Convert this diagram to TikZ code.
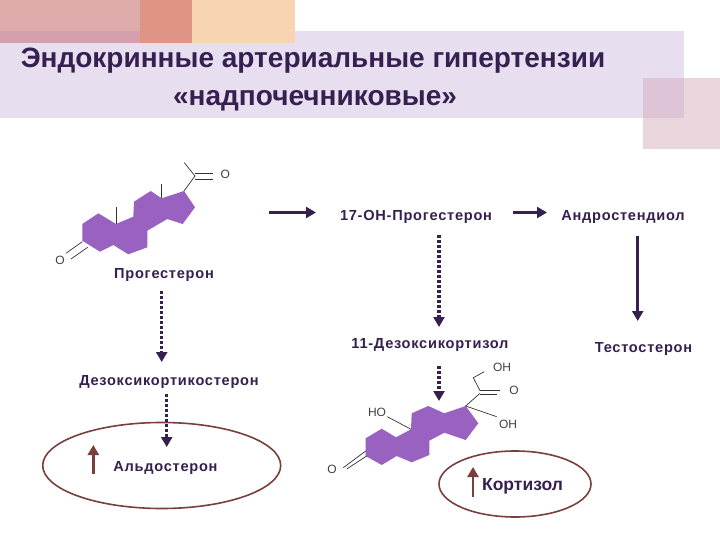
\documentclass[tikz,border=0pt]{standalone}
\usepackage{fontspec}
\setmainfont{Liberation Sans}
\newfontfamily\labelfont[LetterSpace=5]{Liberation Sans}
\usetikzlibrary{arrows.meta,shapes.geometric}
\definecolor{inkdark}{HTML}{35204F}
\definecolor{ringfill}{HTML}{9A62C0}
\definecolor{loopbrown}{HTML}{7A3F3C}
\definecolor{bandfill}{HTML}{E7DEEF}
\definecolor{blockrose}{HTML}{E0ABAB}
\definecolor{blockmix}{HTML}{D69FAD}
\definecolor{blockcoral}{HTML}{DE9585}
\definecolor{blockpeach}{HTML}{F8D5B2}
\definecolor{blockmauve}{HTML}{E9D6DD}
\definecolor{blockover}{HTML}{DDC4D7}
\tikzset{
  compound/.style = {font = \labelfont\fontsize{14.6}{16}\bfseries, text = inkdark, inner sep = 0pt},
  atom/.style = {font = \fontsize{12}{14}\selectfont, text = black!75, inner sep = 0pt},
  title/.style = {font = \fontsize{28}{30}\bfseries, text = inkdark, inner sep = 0pt},
  bond/.style = {draw = black!80, line width = 0.7pt},
  ring/.style = {fill = ringfill},
  solidstep/.style = {draw = inkdark, line width = 3.4pt, -{Triangle[length = 10pt, width = 11pt]}},
  dotstep/.style = {draw = inkdark, line width = 3.4pt, dash pattern = on 3pt off 2pt, -{Triangle[length = 10pt, width = 11pt]}},
  risearrow/.style = {draw = loopbrown, line width = 2.6pt, -{Triangle[length = 10pt, width = 11pt]}},
  hormoneloop/.style = {draw = loopbrown, line width = 1.6pt}
}
\begin{document}
\begin{tikzpicture}[x = 1pt, y = -1pt]
  \useasboundingbox (0, 0) rectangle (720, 540);
  \fill [white] (0, 0) rectangle (720, 540);

  % header blocks
  \fill [bandfill] (0, 31) rectangle (684, 118);
  \fill [blockrose] (0, 0) rectangle (140, 31);
  \fill [blockmix] (0, 31) rectangle (140, 43);
  \fill [blockcoral] (140, 0) rectangle (192, 43);
  \fill [blockpeach] (192, 0) rectangle (295, 43);
  \fill [blockmauve] (643, 78) rectangle (720, 149);
  \fill [blockover] (643, 78) rectangle (684, 118);
  \node [title] (head1) at (313, 60.5) {Эндокринные артериальные гипертензии};
  \node [title] (head2) at (315, 101) {«надпочечниковые»};

  % progesterone
  \fill [ring] (82.3, 224) -- (98.3, 213.3) -- (116, 224) -- (133.3, 216.7) -- (134, 201.7)
    -- (150.7, 191) -- (161.7, 198.3) -- (184, 191) -- (195, 207.3) -- (182.7, 224)
    -- (167.3, 219) -- (147.3, 230.7) -- (147.3, 247.3) -- (128.3, 254.3) -- (113.3, 245)
    -- (100, 251.7) -- (82.3, 240.7) -- cycle;
  \draw [bond] (116, 224) -- (116, 206.7);
  \draw [bond] (161.7, 198.3) -- (161.7, 184.3);
  \draw [bond] (184, 191) -- (195, 176) -- (184.3, 162.7);
  \node [atom] (O1) at (225.3, 174) {O};
  \node [atom] (O2) at (60, 260) {O};
  \draw [bond] (195, 173.3) -- (212.7, 173.3);
  \draw [bond] (195, 179.3) -- (212.7, 179.3);
  \draw [bond] (82.3, 241.7) -- (66, 253.3);
  \draw [bond] (87.7, 247.3) -- (71, 259);

  % cortisol
  \fill [ring] (365.7, 438.3) -- (381.7, 428.7) -- (396, 437.3) -- (411, 429.3) -- (411.7, 413.3)
    -- (428.3, 406) -- (444.3, 413.3) -- (465.7, 406) -- (478.3, 423.3) -- (465.7, 440)
    -- (444.3, 432.7) -- (429.3, 440.7) -- (429.3, 455) -- (411.7, 462.3) -- (396.7, 456)
    -- (381.7, 465) -- (365.7, 456) -- cycle;
  \node [atom] (OH1) at (502, 367) {OH};
  \node [atom] (O3) at (514, 390) {O};
  \node [atom] (OH2) at (508, 424) {OH};
  \node [atom] (HO) at (377, 412.5) {HO};
  \node [atom] (O4) at (332, 469) {O};
  \draw [bond] (465.7, 406) -- (480, 393.3);
  \draw [bond] (480, 390.7) -- (500, 390.7);
  \draw [bond] (480, 394.3) -- (497, 394.3);
  \draw [bond] (480, 390.7) -- (473.3, 377.7) -- (484.3, 371.7);
  \draw [bond] (465.7, 406) -- (496.7, 416.7);
  \draw [bond] (387.3, 416.7) -- (411, 429.3);
  \draw [bond] (365.7, 451) -- (343.3, 467.7);
  \draw [bond] (366.7, 456) -- (346.7, 469);

  % labels
  \node [compound] (progest) at (164, 274.5) {Прогестерон};
  \node [compound] (hydroxy) at (416, 217) {17-ОН-Прогестерон};
  \node [compound] (androst) at (623, 217) {Андростендиол};
  \node [compound] (deoxycort) at (430, 345) {11-Дезоксикортизол};
  \node [compound] (testost) at (643.5, 348.5) {Тестостерон};
  \node [compound] (doc) at (169, 381.5) {Дезоксикортикостерон};
  \node [compound] (aldo) at (165.5, 467.5) {Альдостерон};
  \node [font = \fontsize{17.5}{19}\selectfont\bfseries, text = inkdark, inner sep = 0pt] (cort) at (522.5, 486) {Кортизол};

  % rings round the end products
  \node [hormoneloop, ellipse, minimum width = 238pt, minimum height = 86pt] (aldoloop) at (161.7, 465.5) {};
  \node [hormoneloop, ellipse, minimum width = 152pt, minimum height = 66pt] (cortloop) at (515, 484) {};

  % pathway
  \coordinate (a1) at (269, 212.5);
  \coordinate (a2) at (316, 212.5);
  \coordinate (b1) at (513, 212.5);
  \coordinate (b2) at (547, 212.5);
  \coordinate (c1) at (439, 235);
  \coordinate (c2) at (439, 327);
  \coordinate (d1) at (637.7, 236);
  \coordinate (d2) at (637.7, 321);
  \coordinate (e1) at (439, 366);
  \coordinate (e2) at (439, 401);
  \coordinate (f1) at (161.7, 291);
  \coordinate (f2) at (161.7, 362);
  \coordinate (g1) at (166.7, 394);
  \coordinate (g2) at (166.7, 447);
  \coordinate (h1) at (93.3, 473.5);
  \coordinate (h2) at (93.3, 445);
  \coordinate (k1) at (473, 497);
  \coordinate (k2) at (473, 467);
  \draw [solidstep] (a1) -- (a2);
  \draw [solidstep] (b1) -- (b2);
  \draw [solidstep] (d1) -- (d2);
  \draw [dotstep] (c1) -- (c2);
  \draw [dotstep] (e1) -- (e2);
  \draw [dotstep] (f1) -- (f2);
  \draw [dotstep] (g1) -- (g2);
  \draw [risearrow] (h1) -- (h2);
  \draw [risearrow] (k1) -- (k2);
\end{tikzpicture}
\end{document}
